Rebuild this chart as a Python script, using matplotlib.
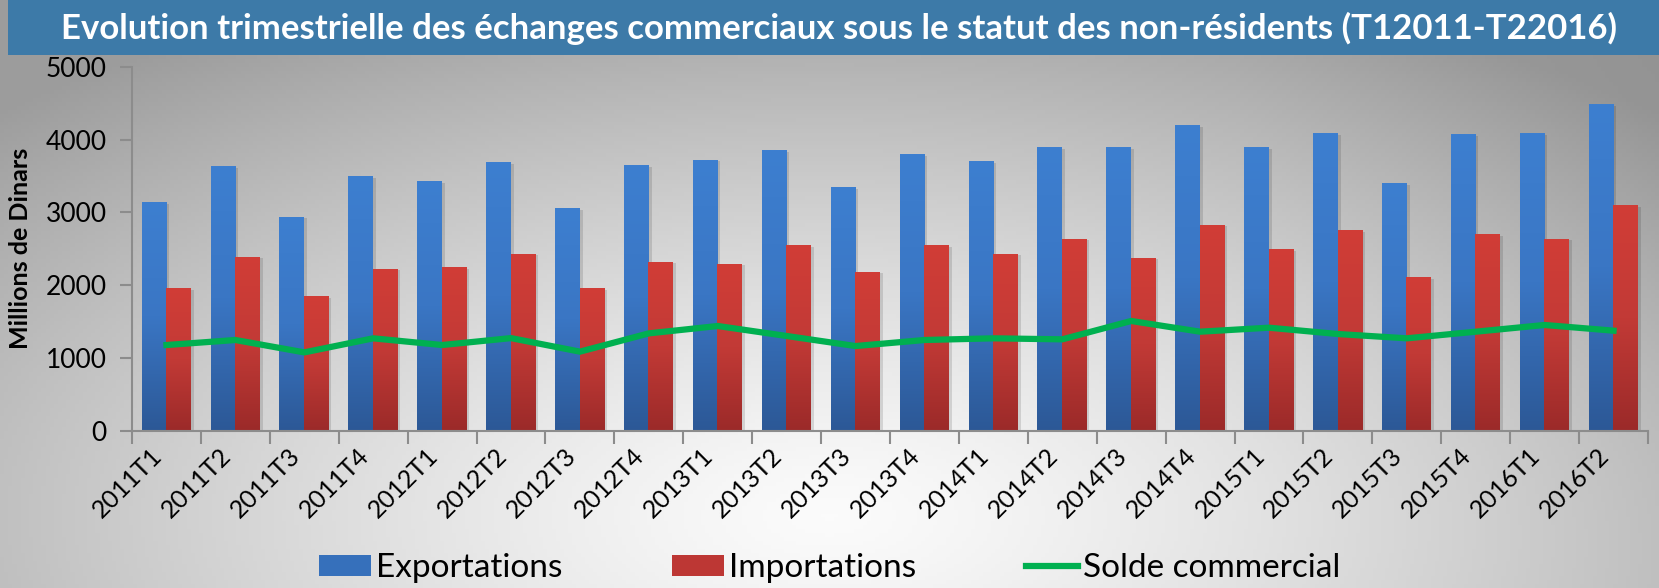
import numpy as np
import matplotlib
matplotlib.use("Agg")
import matplotlib.pyplot as plt
from matplotlib.colors import LinearSegmentedColormap
from matplotlib.patches import Rectangle, Patch
from matplotlib.lines import Line2D

plt.rcParams['font.family'] = ['Lato', 'DejaVu Sans']

quarters = ["2011T1", "2011T2", "2011T3", "2011T4", "2012T1", "2012T2", "2012T3", "2012T4",
            "2013T1", "2013T2", "2013T3", "2013T4", "2014T1", "2014T2", "2014T3", "2014T4",
            "2015T1", "2015T2", "2015T3", "2015T4", "2016T1", "2016T2"]
exportations = [3142, 3636, 2937, 3499, 3430, 3691, 3060, 3650, 3719, 3856, 3348, 3801,
                3705, 3897, 3897, 4199, 3897, 4089, 3403, 4075, 4089, 4487]
importations = [1962, 2388, 1852, 2223, 2250, 2429, 1962, 2319, 2292, 2552, 2182, 2552,
                2429, 2635, 2374, 2827, 2497, 2758, 2113, 2703, 2635, 3101]
solde = [1180, 1249, 1079, 1272, 1180, 1275, 1089, 1340, 1441, 1304, 1166, 1249,
         1272, 1258, 1510, 1363, 1418, 1331, 1272, 1363, 1455, 1377]

title = "Evolution trimestrielle des échanges commerciaux sous le statut des non-résidents (T12011-T22016)"

W, H = 1659, 588
fig = plt.figure(figsize=(W / 100, H / 100), dpi=100)

# fond en dégradé radial (clair au centre bas, gris sur les bords)
bg = fig.add_axes([0, 0, 1, 1], zorder=-10)
gx, gy = np.meshgrid(np.linspace(0, 1, 400), np.linspace(0, 1, 150))
r = np.sqrt(((gx - 0.5) * 1.0) ** 2 + ((gy - 0.12) * 0.75) ** 2)
r = np.clip(r / 0.72, 0, 1)
val = 0.985 - 0.37 * r ** 1.3
val = val - 0.04 * np.clip(gx - 0.75, 0, 1) * gy * 4
bg.imshow(np.dstack([val, val, val]), extent=[0, 1, 0, 1], origin='lower', aspect='auto')
bg.axis('off')

# bandeau du titre
fig.patches.append(Rectangle((8 / W, 1 - 55 / H), 1, 55 / H, transform=fig.transFigure,
                             facecolor='#3d7aa8', edgecolor='none', zorder=0))
fig.text(0.506, 1 - 28 / H, title, color='white', fontsize=25, fontweight='bold',
         ha='center', va='center')

ax = fig.add_axes([132 / W, 1 - 431 / H, (1648 - 132) / W, (431 - 66.7) / H])
ax.set_facecolor('none')

x = np.arange(len(quarters))
w = 0.36
blue_cmap = LinearSegmentedColormap.from_list('b', ['#2c5896', '#3a76c4', '#3d7fd0'])
red_cmap = LinearSegmentedColormap.from_list('r', ['#9b2a29', '#c23a36', '#d13d37'])
grad = np.linspace(0, 1, 256).reshape(-1, 1)

for xs, vals, cmap in [(x - 0.18, exportations, blue_cmap), (x + 0.175, importations, red_cmap)]:
    for xi, v in zip(xs, vals):
        # ombre légère
        ax.add_patch(Rectangle((xi - w / 2 + 0.04, 0), w, v - 20, facecolor='black',
                               alpha=0.12, edgecolor='none', zorder=1))
        ax.imshow(grad, cmap=cmap, origin='lower', aspect='auto', zorder=2,
                  extent=[xi - w / 2, xi + w / 2, 0, v])

ax.plot(x, solde, color='#00b050', linewidth=4.5, zorder=3, solid_joinstyle='miter')

ax.set_xlim(-0.5, len(quarters) - 0.5)
ax.set_ylim(0, 5000)
ax.set_yticks(range(0, 5001, 1000))
ax.set_xticks(x)
ax.set_xticklabels(quarters, rotation=45, ha='right', va='top', fontsize=18)
ax.set_xticks(np.arange(-0.5, len(quarters), 1), minor=True)
ax.tick_params(axis='x', which='major', length=0, pad=9)
ax.tick_params(axis='x', which='minor', length=9, width=1.5, color='#8c8c8c')
ax.tick_params(axis='y', length=9, width=1.5, color='#8c8c8c', labelsize=19, pad=9)
for s in ['top', 'right']:
    ax.spines[s].set_visible(False)
for s in ['left', 'bottom']:
    ax.spines[s].set_color('#8c8c8c')
    ax.spines[s].set_linewidth(1.5)
ax.set_ylabel("Millions de Dinars", fontsize=18, fontweight='bold', labelpad=10)

handles = [Patch(facecolor='#3670bb', edgecolor='none'),
           Patch(facecolor='#bd3734', edgecolor='none'),
           Line2D([0], [0], color='#00b050', linewidth=4.5)]
fig.legend(handles, ["Exportations", "Importations", "Solde commercial"],
           loc='center', bbox_to_anchor=(0.5, 1 - 568 / H), ncol=3, frameon=False,
           fontsize=24, handlelength=1.55, handleheight=0.6, handletextpad=0.15,
           columnspacing=3.3)

fig.savefig("out.png", dpi=100)
